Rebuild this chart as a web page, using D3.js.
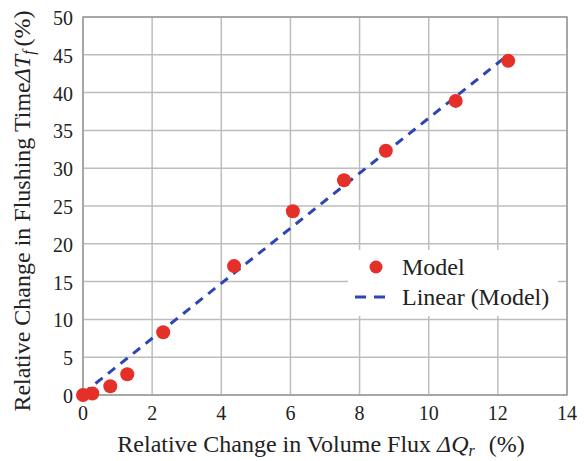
<!DOCTYPE html>
<html>
<head>
<meta charset="utf-8">
<script src="https://cdn.jsdelivr.net/npm/d3@7"></script>
<style>
  body { margin: 0; background: #fff; }
</style>
</head>
<body>
<svg id="chart" width="584" height="461"></svg>
<script>
// Model points
const fluxChange = [0, 0.27, 0.79, 1.28, 2.32, 4.37, 6.07, 7.55, 8.76, 10.78, 12.3];
const flushChange = [0, 0.2, 1.16, 2.75, 8.3, 17.05, 24.3, 28.4, 32.3, 38.9, 44.2];

// Linear trendline ends
const trendX = [0, 12.3];
const trendY = [0.2, 45];

const xTicks = [0, 2, 4, 6, 8, 10, 12, 14];
const yTicks = [0, 5, 10, 15, 20, 25, 30, 35, 40, 45, 50];

const FONT = 'Liberation Serif';
const TEXT_COLOR = '#222';
const svg = d3.select('#chart')
    .attr('font-family', FONT);
const margin = { left: 83, right: 17, top: 17, bottom: 66 };
const width = 584, height = 461;

const x = d3.scaleLinear().domain([0, 14]).range([margin.left, width - margin.right]);
const y = d3.scaleLinear().domain([0, 50]).range([height - margin.bottom, margin.top]);

// Grid
svg.append('g').selectAll('line').data(xTicks).join('line')
    .attr('x1', d => x(d)).attr('x2', d => x(d))
    .attr('y1', y(0)).attr('y2', y(50))
    .attr('stroke', '#bdbdbd').attr('stroke-width', 1.5);
svg.append('g').selectAll('line').data(yTicks).join('line')
    .attr('x1', x(0)).attr('x2', x(14))
    .attr('y1', d => y(d)).attr('y2', d => y(d))
    .attr('stroke', '#bdbdbd').attr('stroke-width', 1.5);

// Plot frame
svg.append('rect')
    .attr('x', x(0)).attr('y', y(50))
    .attr('width', x(14) - x(0)).attr('height', y(0) - y(50))
    .attr('fill', 'none').attr('stroke', '#9a9a9a').attr('stroke-width', 1.5);

// Tick labels
svg.append('g').selectAll('text').data(xTicks).join('text')
    .attr('font-family', FONT).attr('fill', TEXT_COLOR)
    .attr('x', d => x(d)).attr('y', y(0) + 25)
    .attr('text-anchor', 'middle').attr('font-size', 20)
    .text(d => d);
svg.append('g').selectAll('text').data(yTicks).join('text')
    .attr('font-family', FONT).attr('fill', TEXT_COLOR)
    .attr('x', x(0) - 10).attr('y', d => y(d) + 8)
    .attr('text-anchor', 'end').attr('font-size', 20)
    .text(d => d);

// Axis titles
const xt = svg.append('text')
    .attr('font-family', FONT).attr('fill', TEXT_COLOR)
    .attr('x', 321).attr('y', 452)
    .attr('text-anchor', 'middle').attr('font-size', 24);
xt.append('tspan').text('Relative Change in Volume Flux ');
xt.append('tspan').attr('font-style', 'italic').text('ΔQ');
xt.append('tspan').attr('font-style', 'italic').attr('font-size', 16).attr('dy', 4).text('r');
xt.append('tspan').attr('dy', -4).attr('dx', 14).text('(%)');

const yt = svg.append('text')
    .attr('font-family', FONT).attr('fill', TEXT_COLOR)
    .attr('transform', 'translate(30,211) rotate(-90)')
    .attr('text-anchor', 'middle').attr('font-size', 24);
yt.append('tspan').text('Relative Change in Flushing Time');
yt.append('tspan').attr('font-style', 'italic').text('ΔT');
yt.append('tspan').attr('font-style', 'italic').attr('font-size', 16).attr('dy', 4).text('f');
yt.append('tspan').attr('dy', -4).attr('dx', 4).text('(%)');

// Trendline
const line = d3.line().x(d => x(d[0])).y(d => y(d[1]));
svg.append('path')
    .datum(d3.zip(trendX, trendY))
    .attr('d', line)
    .attr('fill', 'none').attr('stroke', '#2d45b5')
    .attr('stroke-width', 3).attr('stroke-dasharray', '9,7');

// Points
svg.append('g').selectAll('circle').data(d3.zip(fluxChange, flushChange)).join('circle')
    .attr('cx', d => x(d[0])).attr('cy', d => y(d[1]))
    .attr('r', 7).attr('fill', '#e5302a');

// Legend
const lg = svg.append('g');
lg.append('rect').attr('x', 348).attr('y', 250).attr('width', 210).attr('height', 66).attr('fill', '#fff');
lg.append('circle').attr('cx', 376).attr('cy', 267).attr('r', 6.5).attr('fill', '#e5302a');
lg.append('text').attr('font-family', FONT).attr('fill', TEXT_COLOR)
    .attr('x', 402).attr('y', 275).attr('font-size', 24).text('Model');
lg.append('line').attr('x1', 355).attr('x2', 391).attr('y1', 297).attr('y2', 297)
    .attr('stroke', '#2d45b5').attr('stroke-width', 3).attr('stroke-dasharray', '11,8');
lg.append('text').attr('font-family', FONT).attr('fill', TEXT_COLOR)
    .attr('x', 402).attr('y', 305).attr('font-size', 24).text('Linear (Model)');
</script>
</body>
</html>
